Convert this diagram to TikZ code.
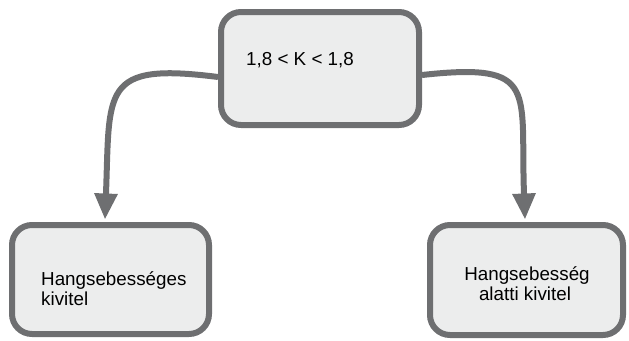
\documentclass[tikz,border=0pt]{standalone}
\usepackage{fontspec}
\setmainfont{Liberation Sans}
\usetikzlibrary{arrows.meta}
\definecolor{edgegray}{RGB}{110,111,113}
\definecolor{boxfill}{RGB}{236,237,237}
\begin{document}
\begin{tikzpicture}[x=1pt,y=-1pt,
  roundbox/.style={draw=edgegray, fill=boxfill, line width=6pt, rounded corners=20pt, inner sep=0pt},
  lbl/.style={font=\fontsize{18.8}{20}\selectfont, inner sep=0pt, text=black},
  conn/.style={draw=edgegray, line width=6pt, -{Triangle[width=22pt,length=26pt]}}]
\useasboundingbox (0,0) rectangle (629,340);
\node[roundbox, minimum width=198pt, minimum height=113pt] (top) at (320,68.5) {};
\node[roundbox, minimum width=197pt, minimum height=109pt] (left) at (110.5,279.5) {};
\node[roundbox, minimum width=193pt, minimum height=110pt] (right) at (526.5,280) {};
\node[lbl, anchor=base west] (toptxt) at (246,65) {1,8 < K < 1,8};
\node[lbl, anchor=base west] (lefttxt1) at (41,285) {Hangsebességes};
\node[lbl, anchor=base west] (lefttxt2) at (41,305) {kivitel};
\node[lbl, anchor=base] (righttxt1) at (527,280) {Hangsebesség};
\node[lbl, anchor=base] (righttxt2) at (525,300) {alatti kivitel};
\draw[conn] ([yshift=-8.5pt]top.west) .. controls (100,62) and (110,90) .. ([xshift=-5.5pt,yshift=2.5pt]left.north);
\draw[conn] ([yshift=-6.5pt]top.east) .. controls (540,62) and (520,90) .. ([xshift=-1.5pt,yshift=2.5pt]right.north);
\end{tikzpicture}
\end{document}
